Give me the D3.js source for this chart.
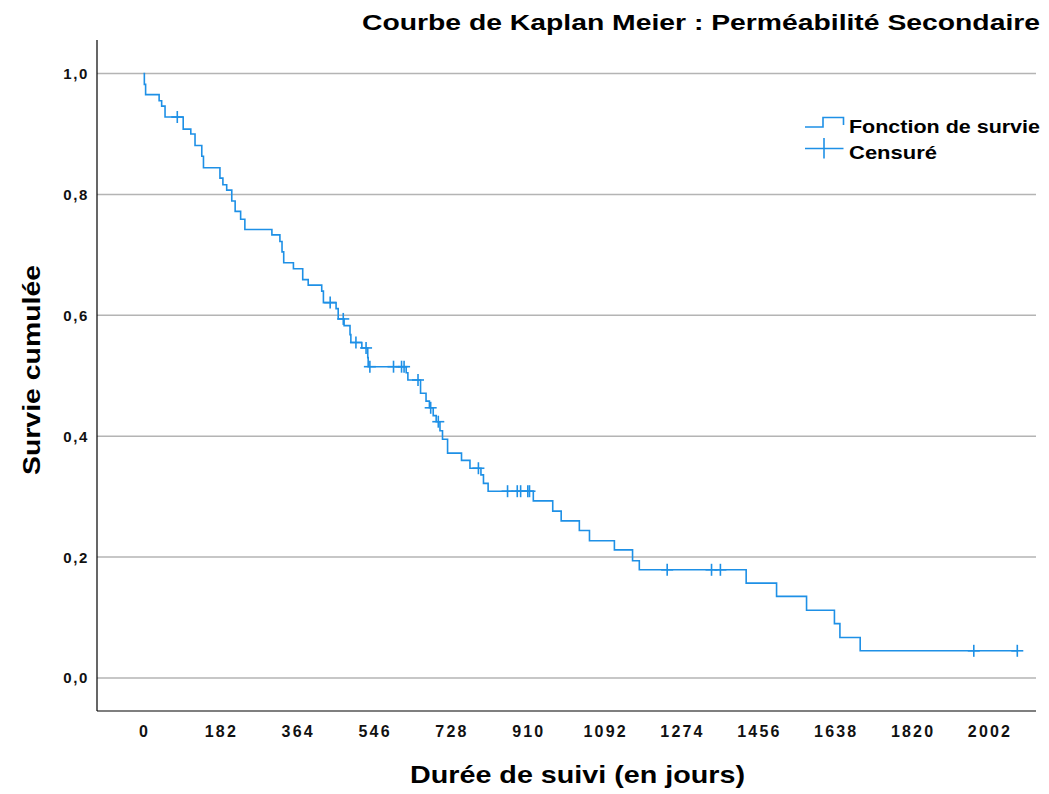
<!DOCTYPE html>
<html lang="fr">
<head>
<meta charset="UTF-8">
<title>Courbe de Kaplan Meier</title>
<script src="https://cdn.jsdelivr.net/npm/d3@7"></script>
<style>
    body{ margin:0; background:#fff; }
    svg{ display:block; font-family:"Liberation Sans", Arial, Helvetica, sans-serif; }
    .grid line{ stroke:#b4b4b4; stroke-width:1.5px; }
    .axis path, .axis line{ stroke:#000; stroke-width:1.2px; }
    .tick-lbl{ font-weight:bold; font-size:15px; letter-spacing:1.6px; fill:#111; }
    .xtick{ font-size:16px; letter-spacing:2.2px; }
    .curve{ fill:none; stroke:#1e90e6; stroke-width:1.6px; }
    .cens{ stroke:#1e90e6; stroke-width:1.6px; }
</style>
</head>
<body>
<svg id="main" width="1049" height="794"></svg>
<script>
// event times (days) and survival after each event
const eventDays = [0, 2, 5, 37, 43, 51, 94, 112, 122, 138, 142, 181, 188, 197, 209, 217, 230, 240,
    304, 323, 328, 332, 355, 377, 390, 422, 426, 456, 461, 475, 489, 491, 517, 531, 532,
    622, 626, 656, 669, 677, 686, 693, 702, 708, 720, 753, 773, 799, 805, 816,
    923, 969, 989, 1032, 1056, 1115, 1158, 1174, 1427, 1499, 1570, 1636, 1649, 1697];
const survival = [1.0, 0.982, 0.965, 0.955, 0.946, 0.928, 0.908, 0.900, 0.881, 0.863, 0.844, 0.827, 0.816, 0.807, 0.789, 0.772, 0.759, 0.742,
    0.733, 0.722, 0.705, 0.687, 0.677, 0.659, 0.650, 0.640, 0.621, 0.611, 0.594, 0.583, 0.568, 0.555, 0.546, 0.530, 0.515,
    0.505, 0.493, 0.471, 0.458, 0.447, 0.434, 0.424, 0.409, 0.395, 0.372, 0.360, 0.347, 0.336, 0.322, 0.309,
    0.293, 0.276, 0.260, 0.244, 0.227, 0.212, 0.194, 0.179, 0.157, 0.135, 0.112, 0.090, 0.067, 0.045];
// censored observations (days)
const censoredDays = [80, 442, 473, 503, 527, 536, 592, 611, 617, 650, 680, 698, 793,
    862, 885, 893, 910, 914, 1240, 1345, 1366, 1966, 2069];
const xTicks = [0, 182, 364, 546, 728, 910, 1092, 1274, 1456, 1638, 1820, 2002];
const yTicks = [0, 0.2, 0.4, 0.6, 0.8, 1.0];

const svg = d3.select("#main");
const frame = {left: 97, right: 1036, top: 40, bottom: 711};

const x = d3.scaleLinear().domain([0, 2002]).range([143.5, 989]);
const y = d3.scaleLinear().domain([0, 1]).range([678, 73.5]);

// survival value at a given day (step function)
const survAt = t => survival[d3.bisectRight(eventDays, t) - 1];

// grid
svg.append("g").attr("class", "grid")
    .selectAll("line").data(yTicks).enter().append("line")
    .attr("x1", frame.left).attr("x2", frame.right)
    .attr("y1", d => y(d)).attr("y2", d => y(d));

// axes lines
const ax = svg.append("g").attr("class", "axis");
ax.append("line").attr("x1", frame.left).attr("x2", frame.left)
    .attr("y1", frame.top).attr("y2", frame.bottom);
ax.append("line").attr("x1", frame.left).attr("x2", frame.right)
    .attr("y1", frame.bottom).attr("y2", frame.bottom);

// tick labels
const fmt = d => d3.format(".1f")(d).replace(".", ",");
svg.append("g").selectAll("text").data(yTicks).enter().append("text")
    .attr("class", "tick-lbl")
    .attr("x", 89).attr("y", d => y(d)).attr("dy", "0.36em")
    .attr("text-anchor", "end")
    .text(fmt);
svg.append("g").selectAll("text").data(xTicks).enter().append("text")
    .attr("class", "tick-lbl xtick")
    .attr("x", d => x(d) + 1).attr("y", 737)
    .attr("text-anchor", "middle")
    .text(d => d);

// survival curve
const pts = eventDays.map((d, i) => [d, survival[i]]);
pts.push([d3.max(censoredDays), survAt(d3.max(censoredDays))]);
const line = d3.line().x(d => x(d[0])).y(d => y(d[1])).curve(d3.curveStepAfter);
svg.append("path").attr("class", "curve").attr("d", line(pts));

// censor marks
const cg = svg.append("g").attr("class", "cens");
censoredDays.forEach(t => {
    const cx = x(t), cy = y(survAt(t));
    cg.append("line").attr("x1", cx).attr("x2", cx).attr("y1", cy - 6).attr("y2", cy + 6);
    cg.append("line").attr("x1", cx - 6).attr("x2", cx + 6).attr("y1", cy).attr("y2", cy);
});

// legend
const lg = svg.append("g");
lg.append("path").attr("class", "curve")
    .attr("d", "M805,127H823V117.5H843.5V125");
lg.append("line").attr("class", "cens").attr("x1", 805).attr("x2", 843.5).attr("y1", 148.5).attr("y2", 148.5);
lg.append("line").attr("class", "cens").attr("x1", 824).attr("x2", 824).attr("y1", 138).attr("y2", 158.5);
lg.append("text").attr("x", 849).attr("y", 133)
    .attr("font-weight", "bold").attr("font-size", 19)
    .attr("textLength", 191).attr("lengthAdjust", "spacingAndGlyphs")
    .text("Fonction de survie");
lg.append("text").attr("x", 849).attr("y", 159)
    .attr("font-weight", "bold").attr("font-size", 19)
    .attr("textLength", 88).attr("lengthAdjust", "spacingAndGlyphs")
    .text("Censuré");

// titles
svg.append("text").attr("x", 1040).attr("y", 30)
    .attr("text-anchor", "end").attr("font-weight", "bold").attr("font-size", 22)
    .attr("textLength", 678).attr("lengthAdjust", "spacingAndGlyphs")
    .text("Courbe de Kaplan Meier : Perméabilité Secondaire");
svg.append("text").attr("x", 577.5).attr("y", 783)
    .attr("text-anchor", "middle").attr("font-weight", "bold").attr("font-size", 24)
    .attr("textLength", 335).attr("lengthAdjust", "spacingAndGlyphs")
    .text("Durée de suivi (en jours)");
svg.append("text")
    .attr("transform", "translate(40,370) rotate(-90)")
    .attr("text-anchor", "middle").attr("font-weight", "bold").attr("font-size", 24)
    .attr("textLength", 210).attr("lengthAdjust", "spacingAndGlyphs")
    .text("Survie cumulée");
</script>
</body>
</html>
